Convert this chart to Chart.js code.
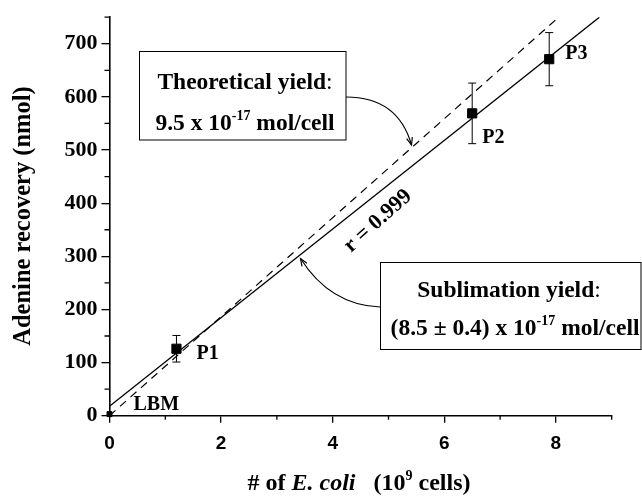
<!DOCTYPE html>
<html>
<head>
<meta charset="utf-8">
<script src="https://cdn.jsdelivr.net/npm/chart.js@4"></script>
<style>
  body { margin: 0; background: #fff; }
  canvas { display: block; }
</style>
</head>
<body>
<canvas id="chart" width="642" height="496"></canvas>
<script>
// measured samples (10^9 cells vs nmol adenine)
const cellsX = [1.2, 6.5, 7.88];
const recovery = [126, 569, 671];
const recoveryErr = [25, 57, 50];
const pointNames = ["P1", "P2", "P3"];

// LB medium blank
const lbmX = [0];
const lbmY = [3];

// regression line (solid) and theoretical line (dashed), end points
const fitX = [0, 8.78];
const fitY = [18, 750];
const theoryX = [0, 8.05];
const theoryY = [0, 750];

const xMajorTicks = [0, 2, 4, 6, 8];
const xMinorTicks = [1, 3, 5, 7, 9];
const yMajorTicks = [0, 100, 200, 300, 400, 500, 600, 700];
const yMinorTicks = [50, 150, 250, 350, 450, 550, 650, 750];

const SERIF = '"Liberation Serif", "Times New Roman", serif';
const SANS = '"Liberation Sans", Arial, sans-serif';

const pts = (xs, ys) => xs.map((x, i) => ({ x: x, y: ys[i] }));

// draw a line of text made of runs (normal / italic / superscript)
function drawRuns(ctx, parts, cx, cy, align, baseline) {
    let total = 0;
    parts.forEach((p) => {
        ctx.font = p.f;
        p.w = ctx.measureText(p.t).width;
        total += p.w;
    });
    let x = align === "left" ? cx : cx - total / 2;
    ctx.textAlign = "left";
    ctx.textBaseline = baseline || "middle";
    parts.forEach((p) => {
        ctx.font = p.f;
        ctx.fillText(p.t, x, cy + (p.dy || 0));
        x += p.w;
    });
}

function arrowHead(ctx, x, y, ang) {
    const len = 8, spread = 0.38;
    ctx.beginPath();
    ctx.moveTo(x - len * Math.cos(ang - spread), y - len * Math.sin(ang - spread));
    ctx.lineTo(x, y);
    ctx.lineTo(x - len * Math.cos(ang + spread), y - len * Math.sin(ang + spread));
    ctx.stroke();
}

const extras = {
    id: "extras",
    afterDatasetsDraw(chart) {
        const ctx = chart.ctx;
        const xs = chart.scales.x, ys = chart.scales.y;
        ctx.save();
        ctx.strokeStyle = "#000";
        ctx.fillStyle = "#000";

        // error bars
        ctx.lineWidth = 1;
        cellsX.forEach((v, i) => {
            const px = xs.getPixelForValue(v);
            const top = ys.getPixelForValue(recovery[i] + recoveryErr[i]);
            const bot = ys.getPixelForValue(recovery[i] - recoveryErr[i]);
            ctx.beginPath();
            ctx.moveTo(px, top); ctx.lineTo(px, bot);
            ctx.moveTo(px - 4, top); ctx.lineTo(px + 4, top);
            ctx.moveTo(px - 4, bot); ctx.lineTo(px + 4, bot);
            ctx.stroke();
        });

        // point labels
        const lblFont = "bold 20px " + SERIF;
        const offs = [[20, 5], [10, 24], [16, -5]];
        cellsX.forEach((v, i) => {
            const px = xs.getPixelForValue(v);
            const py = ys.getPixelForValue(recovery[i]);
            drawRuns(ctx, [{ t: pointNames[i], f: lblFont }], px + offs[i][0], py + offs[i][1], "left");
        });
        drawRuns(ctx, [{ t: "LBM", f: lblFont }],
            xs.getPixelForValue(lbmX[0]) + 24, ys.getPixelForValue(lbmY[0]) - 9, "left");

        // minor ticks
        ctx.lineWidth = 1.3;
        ctx.beginPath();
        xMinorTicks.forEach((v) => {
            const px = xs.getPixelForValue(v);
            ctx.moveTo(px, xs.top); ctx.lineTo(px, xs.top + 4);
        });
        yMinorTicks.forEach((v) => {
            const py = ys.getPixelForValue(v);
            ctx.moveTo(ys.right, py); ctx.lineTo(ys.right - 5, py);
        });
        ctx.stroke();

        // r = 0.999 along the fit line
        ctx.save();
        ctx.translate(378, 221);
        ctx.rotate(-42 * Math.PI / 180);
        drawRuns(ctx, [{ t: "r = 0.999", f: "bold 22px " + SERIF }], 0, 0, "center");
        ctx.restore();

        const bold = "bold 23.5px " + SERIF;
        const plain = "23.5px " + SERIF;
        const sup = "bold 14px " + SERIF;

        // theoretical yield box
        ctx.lineWidth = 1;
        ctx.strokeRect(139.5, 51.5, 206.5, 88.5);
        drawRuns(ctx, [{ t: "Theoretical yield", f: bold }, { t: ":", f: plain }], 245, 88.5, "center", "alphabetic");
        drawRuns(ctx, [
            { t: "9.5 x 10", f: bold },
            { t: "-17", f: sup, dy: -10 },
            { t: " mol/cell", f: bold }
        ], 245, 130, "center", "alphabetic");

        ctx.lineWidth = 1.2;
        ctx.beginPath();
        ctx.moveTo(346, 97);
        ctx.quadraticCurveTo(398, 97, 411.5, 145);
        ctx.stroke();
        arrowHead(ctx, 411.5, 145, Math.atan2(145 - 97, 411.5 - 398));

        // sublimation yield box
        ctx.lineWidth = 1;
        ctx.strokeRect(380.5, 262.5, 260.5, 87);
        drawRuns(ctx, [{ t: "Sublimation yield", f: bold }, { t: ":", f: plain }], 509, 296.5, "center", "alphabetic");
        drawRuns(ctx, [
            { t: "(8.5 \u00b1 0.4) x 10", f: bold },
            { t: "-17", f: sup, dy: -10 },
            { t: " mol/cell", f: bold }
        ], 515, 335, "center", "alphabetic");

        ctx.lineWidth = 1.2;
        ctx.beginPath();
        ctx.moveTo(380, 307);
        ctx.quadraticCurveTo(330, 305, 300.5, 258.5);
        ctx.stroke();
        arrowHead(ctx, 300.5, 258.5, Math.atan2(258.5 - 305, 300.5 - 330));

        // axis titles
        ctx.save();
        ctx.translate(24, 216);
        ctx.rotate(-Math.PI / 2);
        drawRuns(ctx, [{ t: "Adenine recovery (nmol)", f: "bold 24.5px " + SERIF }], 0, 0, "center");
        ctx.restore();

        const tf = "bold 24px " + SERIF;
        drawRuns(ctx, [
            { t: "# of ", f: tf },
            { t: "E. coli", f: "italic bold 24px " + SERIF },
            { t: "   (10", f: tf },
            { t: "9", f: "bold 14px " + SERIF, dy: -10 },
            { t: " cells)", f: tf }
        ], 359, 490, "center", "alphabetic");

        ctx.restore();
    }
};

new Chart(document.getElementById("chart"), {
    type: "scatter",
    plugins: [extras],
    data: {
        datasets: [
            {
                type: "line",
                data: pts(fitX, fitY),
                borderColor: "#000",
                borderWidth: 1.3,
                pointRadius: 0,
                fill: false
            },
            {
                type: "line",
                data: pts(theoryX, theoryY),
                borderColor: "#000",
                borderWidth: 1.2,
                borderDash: [8, 6],
                pointRadius: 0,
                fill: false
            },
            {
                data: pts(cellsX, recovery),
                pointStyle: "rect",
                pointRadius: 6.5,
                backgroundColor: "#000",
                borderColor: "#000",
                borderWidth: 1
            },
            {
                data: pts(lbmX, lbmY),
                pointStyle: "rect",
                pointRadius: 3.5,
                backgroundColor: "#000",
                borderColor: "#000",
                borderWidth: 1,
                clip: false
            }
        ]
    },
    options: {
        responsive: false,
        animation: false,
        layout: { padding: { left: 0, right: 30.3, top: 14.7, bottom: 0 } },
        plugins: {
            legend: { display: false },
            tooltip: { enabled: false }
        },
        scales: {
            x: {
                type: "linear",
                min: 0,
                max: 9,
                bounds: "data",
                afterFit: (s) => { s.height = 80.3; },
                afterBuildTicks: (s) => { s.ticks = xMajorTicks.map((v) => ({ value: v })); },
                grid: { drawOnChartArea: false, tickLength: 7, color: "#000", lineWidth: 1.3 },
                border: { color: "#000", width: 1.6 },
                ticks: {
                    color: "#000",
                    padding: 10,
                    maxRotation: 0,
                    font: { family: SANS, size: 19, weight: "bold" }
                }
            },
            y: {
                type: "linear",
                min: 0,
                max: 750,
                bounds: "data",
                afterFit: (s) => { s.width = 109.5; },
                afterBuildTicks: (s) => { s.ticks = yMajorTicks.map((v) => ({ value: v })); },
                grid: { drawOnChartArea: false, tickLength: 8, color: "#000", lineWidth: 1.3 },
                border: { color: "#000", width: 1.6 },
                ticks: {
                    color: "#000",
                    padding: 4,
                    font: { family: SERIF, size: 22, weight: "bold" }
                }
            }
        }
    }
});
</script>
</body>
</html>
